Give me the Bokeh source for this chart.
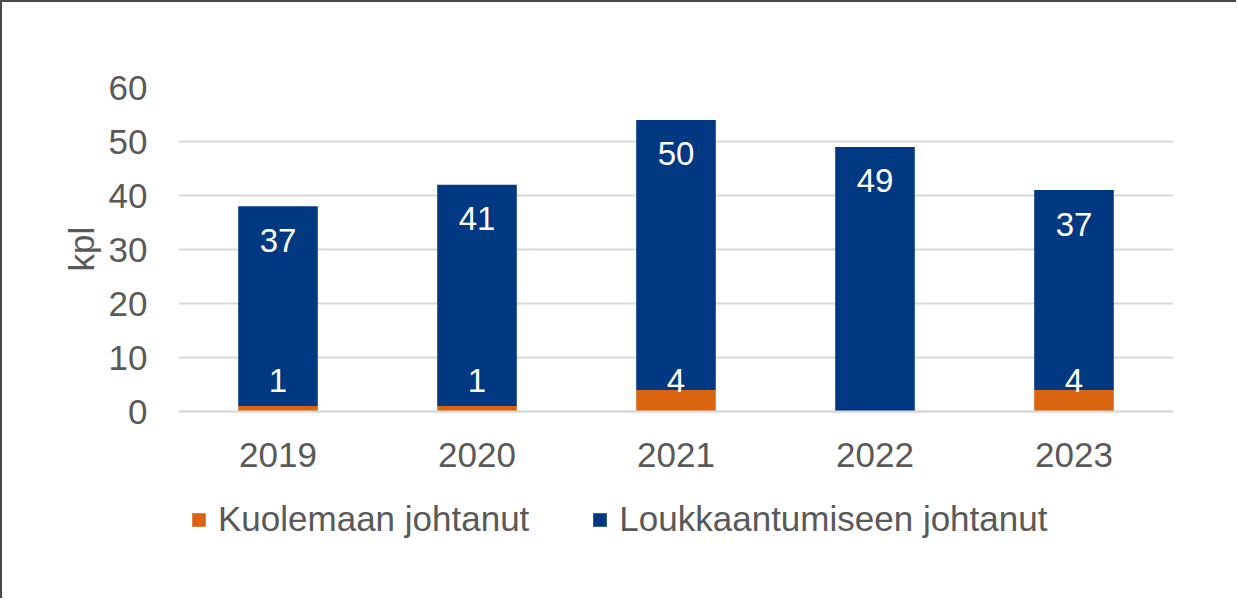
from bokeh.plotting import figure
from bokeh.models import ColumnDataSource, FactorRange, Range1d, FixedTicker, Legend, LegendItem, Title
from bokeh.core.properties import value
from bokeh.embed import file_html
from bokeh.resources import INLINE

# ---- data ----
years = ["2019", "2020", "2021", "2022", "2023"]
kuolemaan = [1, 1, 4, 0, 4]
loukkaantumiseen = [37, 41, 50, 49, 37]
y_ticks = [0, 10, 20, 30, 40, 50, 60]
series_names = ["Kuolemaan johtanut", "Loukkaantumiseen johtanut"]
y_label = "kpl"

ORANGE = "#DA640F"
BLUE = "#003882"
TEXT = "#595959"
GRID = "#D9D9D9"
FONT = "Liberation Sans"

totals = [a + b for a, b in zip(kuolemaan, loukkaantumiseen)]

src = ColumnDataSource(dict(year=years, k=kuolemaan, l=loukkaantumiseen,
                            total=totals, base=[0] * len(years),
                            ltxt=[str(v) for v in loukkaantumiseen]))
k_years = [y for y, v in zip(years, kuolemaan) if v > 0]
k_vals = [v for v in kuolemaan if v > 0]
ksrc = ColumnDataSource(dict(year=k_years, base=[0] * len(k_years),
                             txt=[str(v) for v in k_vals]))

# frame extends below the value axis to hold the year labels and the legend
p = figure(x_range=FactorRange(*years, range_padding=0), y_range=Range1d(-35, 60),
           width=1236, height=598, output_backend="svg", toolbar_location=None,
           min_border_left=176, min_border_right=65, min_border_top=85, min_border_bottom=0)
p.outline_line_color = None
p.background_fill_color = "white"
p.border_fill_color = "white"
p.styles = {"border-top": "2px solid #4a4a4a", "border-left": "2px solid #4a4a4a"}

r = p.vbar_stack(["k", "l"], x="year", width=0.4, color=[ORANGE, BLUE],
                 line_color=None, source=src)

# labels
p.text(x="year", y="total", text="ltxt", source=src, y_offset=34,
       text_align="center", text_baseline="middle", text_color="white",
       text_font=value(FONT), text_font_size="33px")
p.text(x="year", y="base", text="txt", source=ksrc, y_offset=-31,
       text_align="center", text_baseline="middle", text_color="white",
       text_font=value(FONT), text_font_size="33px")

# axes
p.yaxis.ticker = FixedTicker(ticks=y_ticks)
p.yaxis.axis_line_color = None
p.yaxis.major_tick_line_color = None
p.yaxis.minor_tick_line_color = None
p.yaxis.major_label_standoff = 25
p.yaxis.major_label_text_font = FONT
p.yaxis.major_label_text_font_size = "35px"
p.yaxis.major_label_text_color = TEXT

# value-axis title, placed beside the 0..60 part of the frame
p.add_layout(Title(text=y_label, align="left", offset=329, standoff=10,
                   text_font=FONT, text_font_size="35px", text_font_style="normal",
                   text_color=TEXT), "left")

p.xaxis.fixed_location = 0
p.xaxis.axis_line_color = GRID
p.xaxis.axis_line_width = 2
p.xaxis.major_tick_line_color = None
p.xaxis.minor_tick_line_color = None
p.xaxis.major_label_standoff = 25
p.xaxis.major_label_text_font = FONT
p.xaxis.major_label_text_font_size = "35px"
p.xaxis.major_label_text_color = TEXT

p.xgrid.grid_line_color = None
p.ygrid.grid_line_color = GRID
p.ygrid.grid_line_width = 2
p.ygrid.ticker = FixedTicker(ticks=y_ticks)

legend = Legend(items=[LegendItem(label=series_names[0], renderers=[r[0]]),
                       LegendItem(label=series_names[1], renderers=[r[1]])],
                orientation="horizontal", location=(12, 61),
                padding=0, margin=0, spacing=62, label_standoff=11,
                glyph_width=17, glyph_height=17, label_height=17,
                label_text_font=FONT, label_text_font_size="35px",
                label_text_color=TEXT, border_line_color=None,
                background_fill_alpha=0)
p.add_layout(legend, "center")

open("out.html", "w").write(file_html(p, INLINE))
